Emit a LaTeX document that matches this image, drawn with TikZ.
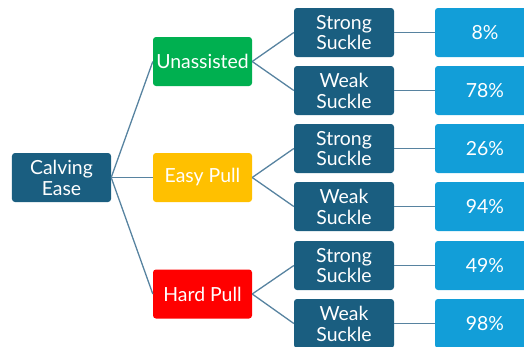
\documentclass[tikz,border=0pt]{standalone}
\usepackage{fontspec}
\setmainfont{Lato}
\definecolor{darkb}{HTML}{1A5E80}
\definecolor{lightb}{HTML}{129ED8}
\definecolor{gr}{HTML}{00B050}
\definecolor{yl}{HTML}{FFC000}
\definecolor{rd}{HTML}{FF0000}
\definecolor{ln}{HTML}{5783A0}
\tikzset{
  box/.style={rectangle, rounded corners=3bp, minimum width=99bp, minimum height=49bp,
    inner sep=0pt, text=white, align=center,
    font=\fontsize{19.5}{21}\selectfont},
  root/.style={box, fill=darkb},
  suck/.style={box, fill=darkb, minimum width=100bp},
  pct/.style={box, fill=lightb, minimum width=100bp},
  conn/.style={draw=ln, line width=1.3bp}
}
\begin{document}
\begin{tikzpicture}[x=1bp,y=-1bp]
\useasboundingbox (0,0) rectangle (524,346);
\clip (0,0) rectangle (524,346);
\node[root] (ce) at (61.5,177.5) {Calving\\Ease};
\node[box, fill=gr] (un) at (202.5,61.5) {Unassisted};
\node[box, fill=yl] (ep) at (202.5,177.5) {Easy Pull};
\node[box, fill=rd] (hp) at (202.5,294) {Hard Pull};
\node[suck] (s1) at (344,32.5) {Strong\\Suckle};
\node[suck] (w1) at (344,90.5) {Weak\\Suckle};
\node[suck] (s2) at (344,148.5) {Strong\\Suckle};
\node[suck] (w2) at (344,206.5) {Weak\\Suckle};
\node[suck] (s3) at (344,265.5) {Strong\\Suckle};
\node[suck] (w3) at (344,323.5) {Weak\\Suckle};
\node[pct] (p1) at (485,32.5) {8\%};
\node[pct] (p2) at (485,90.5) {78\%};
\node[pct] (p3) at (485,148.5) {26\%};
\node[pct] (p4) at (485,206.5) {94\%};
\node[pct] (p5) at (485,265.5) {49\%};
\node[pct] (p6) at (485,323.5) {98\%};
\foreach \c in {un,ep,hp} \draw[conn] (ce.east) -- (\c.west);
\draw[conn] (un.east) -- (s1.west);
\draw[conn] (un.east) -- (w1.west);
\draw[conn] (ep.east) -- (s2.west);
\draw[conn] (ep.east) -- (w2.west);
\draw[conn] (hp.east) -- (s3.west);
\draw[conn] (hp.east) -- (w3.west);
\draw[conn] (s1.east) -- (p1.west);
\draw[conn] (w1.east) -- (p2.west);
\draw[conn] (s2.east) -- (p3.west);
\draw[conn] (w2.east) -- (p4.west);
\draw[conn] (s3.east) -- (p5.west);
\draw[conn] (w3.east) -- (p6.west);
\end{tikzpicture}
\end{document}
